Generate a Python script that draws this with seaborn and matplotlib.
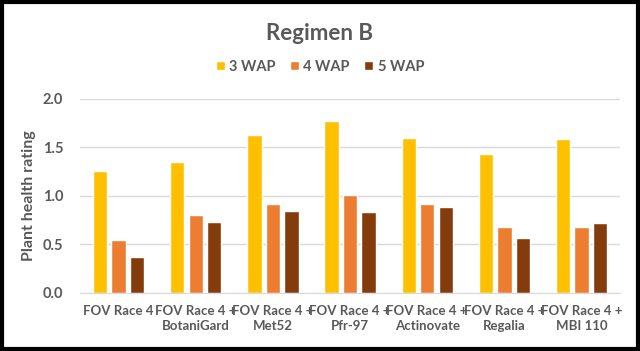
import pandas as pd
import matplotlib
matplotlib.use("Agg")
import matplotlib.pyplot as plt
import seaborn as sns
from matplotlib.patches import Rectangle

# valeurs
treatments = [
    "FOV Race 4",
    "FOV Race 4 +\nBotaniGard",
    "FOV Race 4 +\nMet52",
    "FOV Race 4 +\nPfr-97",
    "FOV Race 4 +\nActinovate",
    "FOV Race 4 +\nRegalia",
    "FOV Race 4 +\nMBI 110",
]
weeks = ["3 WAP", "4 WAP", "5 WAP"]
wap3 = [1.26, 1.35, 1.63, 1.77, 1.60, 1.43, 1.59]
wap4 = [0.54, 0.80, 0.92, 1.01, 0.92, 0.68, 0.68]
wap5 = [0.37, 0.73, 0.84, 0.83, 0.88, 0.56, 0.72]
colors = ["#FFC000", "#ED7D31", "#843C0C"]

df = pd.DataFrame({
    "treatment": treatments * 3,
    "week": [w for w in weeks for _ in treatments],
    "rating": wap3 + wap4 + wap5,
})

sns.set_style("white")
plt.rcParams["font.family"] = ["Lato", "DejaVu Sans"]
txt = "#595959"

fig = plt.figure(figsize=(6.4, 3.51), dpi=100)
ax = fig.add_axes([0.125, 0.166, 0.844, 0.552])

sns.barplot(data=df, x="treatment", y="rating", hue="week", palette=colors,
            width=0.72, gap=0.22, ax=ax, saturation=1)

ax.set_ylim(0, 2.0)
ax.set_yticks([0.0, 0.5, 1.0, 1.5, 2.0])
ax.set_yticklabels(["0.0", "0.5", "1.0", "1.5", "2.0"])
ax.yaxis.grid(True, color="#D9D9D9", linewidth=1)
ax.set_axisbelow(True)
for s in ["top", "right", "left"]:
    ax.spines[s].set_visible(False)
ax.spines["bottom"].set_color("#D9D9D9")
ax.tick_params(axis="x", length=0, colors=txt, labelsize=9.5, pad=9)
ax.tick_params(axis="y", length=0, colors=txt, labelsize=10.5, pad=12)
for lab in ax.get_xticklabels():
    lab.set_fontweight("bold")
    lab.set_linespacing(1.3)
for lab in ax.get_yticklabels():
    lab.set_fontweight("bold")
ax.set_xlabel("")
ax.set_ylabel("Plant health rating", color=txt, fontsize=11.5, fontweight="bold", labelpad=5)

ax.legend_.remove()
handles, labels = ax.get_legend_handles_labels()
fig.legend(handles, labels, loc="center", bbox_to_anchor=(0.5, 0.81), ncol=3,
           frameon=False, handlelength=0.6, handleheight=0.6,
           handletextpad=0.3, columnspacing=1.0, labelcolor=txt,
           prop={"weight": "bold", "size": 10.5})

fig.text(0.5, 0.905, "Regimen B", ha="center", va="center", color=txt,
         fontsize=16, fontweight="bold")

fig.patches.append(Rectangle((0.003, 0.005), 0.994, 0.99, transform=fig.transFigure,
                             fill=False, edgecolor="black", linewidth=3))

fig.savefig("out.png", dpi=100, facecolor="white")
